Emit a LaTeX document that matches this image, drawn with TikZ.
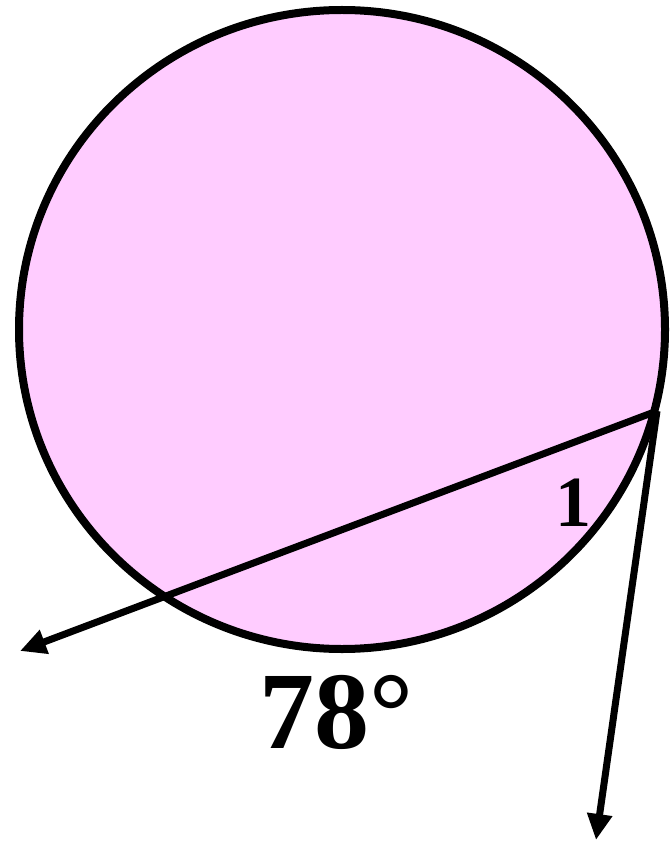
\documentclass[tikz,border=0pt]{standalone}
\usepackage{fontspec}
\setmainfont{Liberation Serif}
\usetikzlibrary{arrows.meta}
\definecolor{pinkfill}{HTML}{FFCCFF}
\tikzset{
  ray/.style={line width=7pt, -{Triangle[length=26pt,width=24pt]}},
  lbl/.style={font=\bfseries, inner sep=0pt}
}
\begin{document}
\begin{tikzpicture}[x=1pt,y=-1pt]
\useasboundingbox (0,0) rectangle (671,842);
\draw[line width=8pt, fill=pinkfill] (342,329.5) ellipse [x radius=323, y radius=319.5];
\coordinate (V) at (657,411);
\coordinate (A) at (20,651);
\coordinate (B) at (596,840);
\draw[ray] (V) -- (A);
\draw[ray] (V) -- (B);
\node[lbl, font=\fontsize{72}{72}\bfseries\selectfont] (one) at (573,503) {1};
\node[lbl, font=\fontsize{110}{110}\bfseries\selectfont] (arc) at (336,712) {78°};
\end{tikzpicture}
\end{document}
